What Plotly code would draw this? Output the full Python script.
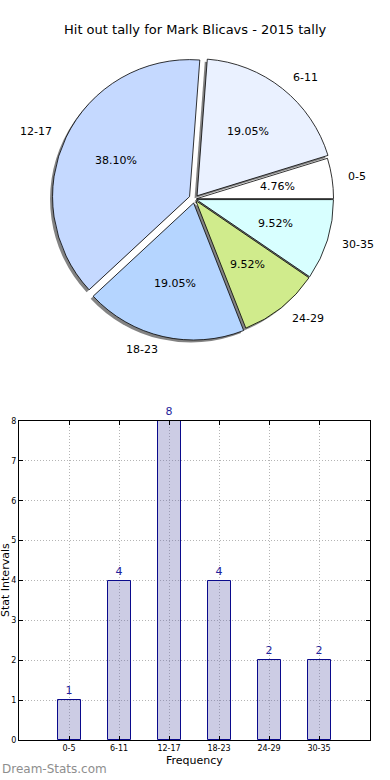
import math
import plotly.graph_objects as go

# ---- data ----
categories = ["0-5", "6-11", "12-17", "18-23", "24-29", "30-35"]
counts = [1, 4, 8, 4, 2, 2]
slice_colors = ["#FFFFFF", "#EAF1FF", "#C5D9FF", "#B5D5FF", "#D0EB8C", "#D8FFFF"]
pulls = [0.015, 0.03, 0.04, 0.03, 0.015, 0.015]
title_text = "Hit out tally for Mark Blicavs - 2015 tally"

W, H = 390, 780
FONT = "DejaVu Sans"


def sx(X):
    """screen x (px) -> paper fraction"""
    return X / W


def sy(Y):
    """screen y (px, from top) -> paper fraction"""
    return 1 - Y / H


# ---- pie geometry (screen pixels) ----
cx, cy, r = 194.5, 199.0, 137.0
half = r * (1 + max(pulls))
dom_x = [sx(cx - half), sx(cx + half)]
dom_y = [sy(cy + half), sy(cy - half)]
sh = 2.5  # shadow offset px
dom_x_sh = [sx(cx - half - sh), sx(cx + half - sh)]
dom_y_sh = [sy(cy + half + sh), sy(cy - half + sh)]

# plotly draws clockwise from rotation; reverse so the chart runs counterclockwise from 3 o'clock
rc = categories[::-1]
rv = counts[::-1]
rcol = slice_colors[::-1]
rp = pulls[::-1]

fig = go.Figure()
fig.add_trace(go.Pie(
    labels=rc, values=rv, sort=False, direction="clockwise", rotation=90,
    pull=rp, marker=dict(colors=["rgba(90,90,90,0.75)"] * len(rv), line=dict(width=0)),
    textinfo="none", hoverinfo="skip", showlegend=False, domain=dict(x=dom_x_sh, y=dom_y_sh),
))
fig.add_trace(go.Pie(
    labels=rc, values=rv, sort=False, direction="clockwise", rotation=90,
    pull=rp, marker=dict(colors=rcol, line=dict(color="black", width=0.8)),
    textinfo="none", showlegend=False, domain=dict(x=dom_x, y=dom_y),
))

annotations = []
total = sum(counts)
cum = 0
for cat, v, p in zip(categories, counts, pulls):
    mid = math.radians(360.0 * (cum + v / 2) / total)
    cum += v
    c, s = math.cos(mid), math.sin(mid)
    ox, oy = cx + p * r * c, cy - p * r * s
    px_, py_ = ox + 0.6 * r * c, oy - 0.6 * r * s
    annotations.append(dict(x=sx(px_), y=sy(py_), xref="paper", yref="paper",
                            text=f"{100 * v / total:.2f}%", showarrow=False,
                            font=dict(family=FONT, size=11, color="black"),
                            xanchor="center", yanchor="middle"))
    lx, ly = ox + 1.1 * r * c, oy - 1.1 * r * s
    annotations.append(dict(x=sx(lx), y=sy(ly), xref="paper", yref="paper",
                            text=cat, showarrow=False,
                            font=dict(family=FONT, size=11, color="black"),
                            xanchor="left" if c > 0 else "right", yanchor="middle"))

# ---- bar chart ----
fig.add_trace(go.Bar(
    x=categories, y=counts, width=0.46, text=[str(v) for v in counts],
    textposition="outside", cliponaxis=False,
    textfont=dict(family=FONT, size=11, color="#1f1f9c"),
    marker=dict(color="rgba(109,109,178,0.35)", line=dict(color="#0A0A8C", width=1)),
    showlegend=False, xaxis="x", yaxis="y",
))

annotations += [
    dict(x=sx(5), y=sy(580), xref="paper", yref="paper", text="Stat Intervals",
         textangle=-90, showarrow=False, font=dict(family=FONT, size=11, color="black"),
         xanchor="center", yanchor="middle"),
    dict(x=sx(194), y=sy(760), xref="paper", yref="paper", text="Frequency",
         showarrow=False, font=dict(family=FONT, size=11, color="black"),
         xanchor="center", yanchor="middle"),
    dict(x=sx(0), y=sy(769), xref="paper", yref="paper", text="Dream-Stats.com",
         showarrow=False, font=dict(family=FONT, size=12, color="#8e8e8e"),
         xanchor="left", yanchor="middle"),
    dict(x=sx(195), y=sy(30), xref="paper", yref="paper", text=title_text,
         showarrow=False, font=dict(family=FONT, size=13, color="black"),
         xanchor="center", yanchor="middle"),
]

axis_common = dict(showline=True, linecolor="black", linewidth=1, mirror="ticks",
                   ticks="inside", ticklen=4, tickcolor="black", showgrid=True,
                   gridcolor="#b4b4b4", griddash="1px,2px", gridwidth=1, zeroline=False,
                   automargin=False,
                   tickfont=dict(family=FONT, size=8, color="black"))

fig.update_layout(
    template="none",
    width=W, height=H, margin=dict(l=0, r=0, t=0, b=0, pad=0), autosize=False,
    paper_bgcolor="white", plot_bgcolor="white", showlegend=False,
    xaxis=dict(domain=[sx(19), sx(370)], anchor="y", type="category",
               range=[-1, 6.02], **axis_common),
    yaxis=dict(domain=[sy(740), sy(421)], anchor="x", range=[0, 8],
               dtick=1, **axis_common),
    annotations=annotations,
    bargap=0,
)

fig.write_html("out.html", config={"displayModeBar": False},
               post_script="document.body.style.margin='0';")
